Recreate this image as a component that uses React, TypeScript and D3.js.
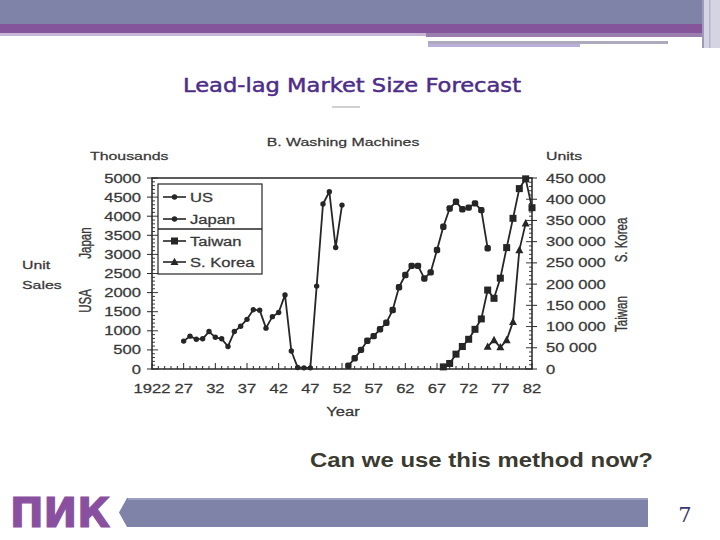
import React from "react";
import * as d3 from "d3";

// values (thousands for US / Japan, units for Taiwan / S. Korea)
const usYears = [1927, 1928, 1929, 1930, 1931, 1932, 1933, 1934, 1935, 1936, 1937, 1938, 1939, 1940, 1941, 1942, 1943, 1944, 1945, 1946, 1947, 1948, 1949, 1950, 1951, 1952];
const usValues = [730, 860, 780, 790, 980, 830, 790, 590, 980, 1120, 1300, 1550, 1540, 1070, 1370, 1480, 1940, 470, 40, 30, 30, 2170, 4320, 4640, 3180, 4290];

const japanYears = [1953, 1954, 1955, 1956, 1957, 1958, 1959, 1960, 1961, 1962, 1963, 1964, 1965, 1966, 1967, 1968, 1969, 1970, 1971, 1972, 1973, 1974, 1975];
const japanValues = [85, 280, 500, 740, 860, 1040, 1210, 1545, 2140, 2460, 2700, 2700, 2370, 2530, 3115, 3725, 4200, 4380, 4180, 4225, 4335, 4160, 3160];

const taiwanYears = [1968, 1969, 1970, 1971, 1972, 1973, 1974, 1975, 1976, 1977, 1978, 1979, 1980, 1981, 1982];
const taiwanValues = [5000, 13000, 35000, 53000, 70000, 93500, 118000, 186000, 166500, 214000, 286000, 355000, 425000, 448000, 380000];

const koreaYears = [1975, 1976, 1977, 1978, 1979, 1980, 1981];
const koreaValues = [52500, 68000, 51000, 68000, 111000, 280000, 343000];

const yearTicks = [1922, 1927, 1932, 1937, 1942, 1947, 1952, 1957, 1962, 1967, 1972, 1977, 1982];
const yearLabels = ["1922", "27", "32", "37", "42", "47", "52", "57", "62", "67", "72", "77", "82"];
const leftTicks = [0, 500, 1000, 1500, 2000, 2500, 3000, 3500, 4000, 4500, 5000];
const rightTicks = [0, 50000, 100000, 150000, 200000, 250000, 300000, 350000, 400000, 450000];
const legendNames = ["US", "Japan", "Taiwan", "S. Korea"];

// the chart picture on the slide is stretched sideways
const SX = 1.38;
const FONT = "'Liberation Sans', Arial, sans-serif";
const INK = "#262626";

function T({ x, y, children, anchor = "start", size = 12.5, fill = "#383838", rot = false }: any) {
  return (
    <text
      transform={`translate(${x},${y}) scale(${SX},1)${rot ? " rotate(-90)" : ""}`}
      textAnchor={anchor}
      fontSize={size}
      fontFamily={FONT}
      fill={fill}
      stroke={fill}
      strokeWidth={0.25}
    >
      {children}
    </text>
  );
}

function Marker({ kind, x, y }: any) {
  if (kind === "circle") return <circle cx={x} cy={y} r={2.7} fill={INK} />;
  if (kind === "dot") return <rect x={x - 3.2} y={y - 3.2} width={6.4} height={6.4} rx={2} fill={INK} />;
  if (kind === "square") return <rect x={x - 3.5} y={y - 3.5} width={7} height={7} fill={INK} />;
  return <path d={`M${x},${y - 4.3}L${x + 4},${y + 3}L${x - 4},${y + 3}Z`} fill={INK} />;
}

export default function App() {
  const left = 152, right = 532, top = 178, bottom = 369;
  const x = d3.scaleLinear().domain([1922, 1982]).range([left, right]);
  const yL = d3.scaleLinear().domain([0, 5000]).range([bottom, top]);
  const yR = d3.scaleLinear().domain([0, 450000]).range([bottom, top]);

  const series = [
    { years: usYears, values: usValues, y: yL, kind: "circle" },
    { years: japanYears, values: japanValues, y: yL, kind: "dot" },
    { years: taiwanYears, values: taiwanValues, y: yR, kind: "square" },
    { years: koreaYears, values: koreaValues, y: yR, kind: "triangle" },
  ];

  const minorYears = d3.range(1922, 1983);
  const leftMinor = d3.range(0, 5001, 100);
  const rightMinor = d3.range(0, 450001, 10000);

  return (
    <svg width={720} height={540} style={{ position: "absolute", left: 0, top: 0, background: "#fff" }}>
      {/* header bands */}
      <rect x={0} y={0} width={720} height={25} fill="#7f83a8" />
      <rect x={0} y={24} width={702} height={9} fill="#84559b" />
      <rect x={0} y={33} width={426} height={3} fill="#c6b6d6" />
      <rect x={426} y={33} width={276} height={4} fill="#9a7fae" />
      <rect x={428} y={38} width={240} height={3} fill="#ffffff" />
      <rect x={428} y={41} width={240} height={3} fill="#aeaabd" />
      <rect x={428} y={44} width={152} height={3} fill="#bcaedb" />
      <rect x={702} y={0} width={18} height={48} fill="#d4d4e2" />
      <rect x={702} y={0} width={2} height={48} fill="#9c9cba" />
      <rect x={709} y={0} width={1.5} height={48} fill="#b4b4cc" />

      {/* slide title */}
      <text x={183} y={92} fontSize={20} fontFamily="'DejaVu Sans', Verdana, sans-serif" fill="#4e2d88" stroke="#4e2d88" strokeWidth={0.5} textLength={338} lengthAdjust="spacingAndGlyphs">
        Lead-lag Market Size Forecast
      </text>
      <rect x={332} y={106} width={28} height={2} fill="#d0d0d0" />

      {/* chart titles */}
      <T x={343} y={146} anchor="middle" size={11.5}>B. Washing Machines</T>
      <T x={90} y={160} size={11.5}>Thousands</T>
      <T x={546} y={160} size={11.5}>Units</T>
      <T x={22} y={269} size={11.5}>Unit</T>
      <T x={22} y={289} size={11.5}>Sales</T>
      <T x={91} y={243} anchor="middle" size={11.5} rot>Japan</T>
      <T x={91} y={301} anchor="middle" size={11.5} rot>USA</T>
      <T x={627} y={240} anchor="middle" size={11.5} rot>S. Korea</T>
      <T x={627} y={314} anchor="middle" size={11.5} rot>Taiwan</T>

      {/* frame */}
      <rect x={left} y={top} width={right - left} height={bottom - top} fill="none" stroke={INK} strokeWidth={1.5} />

      {/* x axis ticks */}
      {minorYears.map((yr) => (
        <line key={"xm" + yr} x1={x(yr)} x2={x(yr)} y1={bottom} y2={bottom - ((yr - 1922) % 5 === 0 ? 6 : 3)} stroke={INK} strokeWidth={1} />
      ))}
      {yearTicks.map((yr, i) => (
        <T key={"xl" + yr} x={x(yr)} y={393} anchor="middle" size={12}>{yearLabels[i]}</T>
      ))}
      <T x={343} y={416} anchor="middle" size={12}>Year</T>

      {/* left axis */}
      {leftMinor.map((v) => (
        <line key={"lm" + v} x1={left} x2={left + (v % 500 === 0 ? 6 : 3)} y1={yL(v)} y2={yL(v)} stroke={INK} strokeWidth={0.9} />
      ))}
      {leftTicks.map((v) => (
        <g key={"lt" + v}>
          <line x1={left - 5} x2={left} y1={yL(v)} y2={yL(v)} stroke={INK} strokeWidth={1} />
          <T x={141} y={yL(v) + 4.5} anchor="end" size={12}>{String(v)}</T>
        </g>
      ))}

      {/* right axis */}
      {rightMinor.map((v) => (
        <line key={"rm" + v} x1={right} x2={right - (v % 50000 === 0 ? 6 : 3)} y1={yR(v)} y2={yR(v)} stroke={INK} strokeWidth={0.9} />
      ))}
      {rightTicks.map((v) => (
        <g key={"rt" + v}>
          <line x1={right} x2={right + 5} y1={yR(v)} y2={yR(v)} stroke={INK} strokeWidth={1} />
          <T x={546} y={yR(v) + 4.5} size={12}>{d3.format(",")(v).replace(",", " ")}</T>
        </g>
      ))}

      {/* series */}
      {series.map((s, i) => {
        const pts = s.years.map((yr, j) => [x(yr), s.y(s.values[j])] as [number, number]);
        return (
          <g key={"s" + i}>
            <path d={d3.line()(pts) || ""} fill="none" stroke={INK} strokeWidth={1.8} strokeLinejoin="round" />
            {pts.map((p, j) => (
              <Marker key={j} kind={s.kind} x={p[0]} y={p[1]} />
            ))}
          </g>
        );
      })}

      {/* legend */}
      <rect x={158} y={184} width={104} height={90} fill="#fff" stroke={INK} strokeWidth={1.2} />
      <line x1={158} x2={262} y1={229} y2={229} stroke={INK} strokeWidth={1.4} />
      {legendNames.map((name, i) => {
        const ly = [197, 219, 241, 262][i];
        return (
          <g key={name}>
            <line x1={163} x2={186} y1={ly} y2={ly} stroke={INK} strokeWidth={1.6} />
            <Marker kind={i === 1 ? "circle" : series[i].kind} x={174.5} y={ly} />
            <T x={190} y={ly + 4.5} size={12}>{name}</T>
          </g>
        );
      })}

      {/* question */}
      <text x={310} y={467} fontSize={20} fontWeight="bold" fontFamily={FONT} fill="#3a3a30" textLength={343} lengthAdjust="spacingAndGlyphs">
        Can we use this method now?
      </text>

      {/* footer */}
      <text x={10} y={527} fontSize={41} fontWeight="bold" fontFamily="'DejaVu Sans', sans-serif" fill="#8a50a0" stroke="#8a50a0" strokeWidth={1.2} textLength={100} lengthAdjust="spacingAndGlyphs">
        ПИК
      </text>
      <polygon points="119,512.5 127,498 648,498 648,527 127,527" fill="#7f83a8" />
      <line x1={128} x2={648} y1={499} y2={499} stroke="#a4a7c6" strokeWidth={1.5} />
      <text x={685} y={522} textAnchor="middle" fontSize={21} fontFamily="'DejaVu Serif', serif" fill="#3b3870">7</text>
    </svg>
  );
}
